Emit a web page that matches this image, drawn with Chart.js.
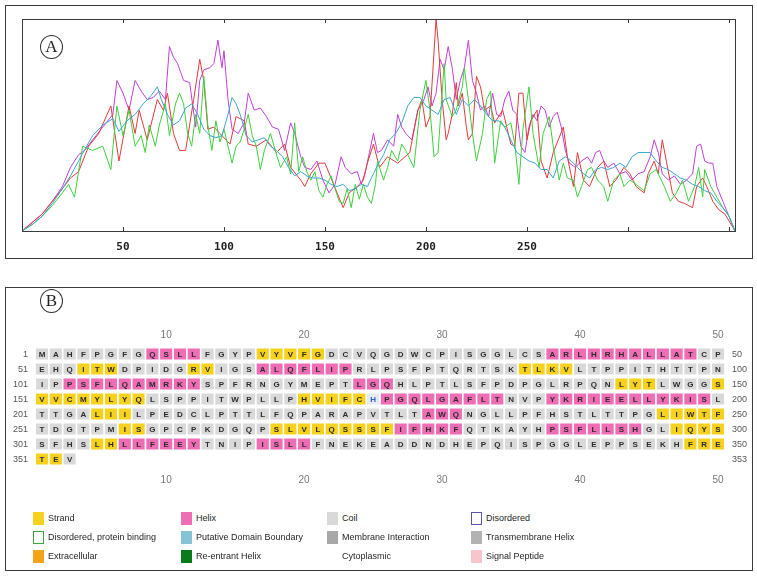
<!DOCTYPE html>
<html>
<head>
<meta charset="utf-8">
<title>Profile and sequence</title>
<script src="https://cdn.jsdelivr.net/npm/chart.js@4.4.1/dist/chart.umd.min.js"></script>
<style>
    html, body { margin: 0; padding: 0; background: #fff; }
    body { width: 757px; height: 577px; position: relative; overflow: hidden; font-family: "Liberation Sans", Arial, sans-serif; }
    .panel { position: absolute; border: 1px solid #3c3c3c; box-sizing: border-box; }
    #panelA { left: 5px; top: 5px; width: 748px; height: 254px; }
    #panelB { left: 5px; top: 287px; width: 748px; height: 284px; }
    canvas { position: absolute; }
    #profileChart { left: 6px; top: 6px; }
    #sequenceChart { left: 6px; top: 288px; }
    .badge { position: absolute; width: 23px; height: 24px; border: 1px solid #333; border-radius: 50%; box-sizing: border-box;
             font-family: "Liberation Serif", "DejaVu Serif", serif; font-size: 17px; line-height: 22px; text-align: center; color: #222; }
    .legend-item { position: absolute; height: 13px; font-size: 9px; line-height: 13px; color: #262626; white-space: nowrap; }
    .legend-item .sw { position: absolute; left: 0; top: 0; width: 11px; height: 13px; box-sizing: border-box; }
    .legend-item .tx { position: absolute; top: 0; }
</style>
</head>
<body>
<div class="panel" id="panelA"></div>
<div class="panel" id="panelB"></div>
<canvas id="profileChart" width="746" height="252"></canvas>
<canvas id="sequenceChart" width="746" height="212"></canvas>
<div class="badge" style="left:40px;top:35px;">A</div>
<div class="badge" style="left:40px;top:289px;">B</div>
<div id="legend"></div>

<script>
// ---- Panel A: per-residue profiles, [residue, value] ----
const magentaLine = [[0,0],[10,8],[15,14],[20,21],[24,30],[28,36],[31,38],[35,43],[40,49],[45,55],[47,71],[50,65],[53,57],[56,71],[59,66],[62,62],[65,63],[68,66],[71,62],[73,87],[75,82],[77,79],[80,71],[83,70],[86,49],[88,71],[90,76],[93,77],[95,79],[97,90],[99,77],[100,85],[102,62],[104,48],[107,46],[110,51],[112,65],[115,57],[118,58],[121,54],[124,49],[127,48],[130,38],[133,51],[135,46],[138,35],[140,30],[143,29],[146,33],[149,24],[152,18],[155,22],[158,35],[160,30],[163,27],[166,28],[168,22],[170,28],[172,37],[174,46],[176,37],[178,38],[181,43],[184,40],[186,55],[188,49],[190,46],[193,43],[196,57],[199,62],[201,68],[203,59],[205,65],[207,81],[209,76],[211,87],[213,77],[215,62],[217,71],[219,77],[221,90],[223,71],[225,65],[227,57],[229,59],[231,54],[233,65],[235,55],[237,54],[239,62],[241,66],[243,57],[245,55],[247,40],[249,37],[251,49],[253,55],[255,52],[257,59],[259,57],[261,49],[263,54],[265,56],[267,49],[269,38],[271,32],[274,30],[277,33],[280,35],[282,32],[284,37],[286,38],[288,33],[290,30],[293,32],[296,27],[299,28],[302,24],[305,27],[308,28],[311,35],[313,43],[315,37],[317,27],[320,24],[323,26],[326,22],[329,24],[332,27],[334,40],[336,41],[338,33],[340,32],[342,32],[344,21],[347,14],[350,7],[353,0]];
const redLine = [[0,0],[10,8],[15,14],[20,20],[24,25],[28,28],[33,40],[38,46],[44,59],[48,33],[53,59],[56,46],[58,57],[62,43],[67,62],[70,57],[72,65],[75,46],[78,38],[81,38],[85,62],[88,81],[90,71],[92,48],[95,49],[98,46],[103,41],[106,54],[110,52],[112,41],[116,40],[121,43],[126,37],[130,41],[133,30],[138,24],[140,21],[143,27],[147,32],[150,32],[153,25],[156,18],[159,11],[162,18],[166,21],[169,24],[171,32],[174,41],[177,30],[181,35],[186,32],[192,37],[196,57],[198,62],[200,49],[202,54],[205,100],[206,90],[208,62],[210,43],[211,46],[213,55],[215,70],[216,59],[218,65],[220,49],[221,43],[223,46],[225,73],[227,68],[229,57],[232,59],[234,51],[238,57],[242,41],[244,40],[246,65],[248,65],[250,43],[252,52],[255,57],[257,33],[260,25],[263,37],[268,49],[270,35],[273,21],[275,37],[278,24],[281,21],[285,30],[288,33],[291,21],[294,24],[298,30],[301,27],[304,21],[308,18],[310,27],[313,33],[315,27],[317,43],[319,33],[322,18],[325,14],[328,13],[332,11],[334,21],[337,25],[339,21],[342,14],[345,10],[348,8],[353,0]];
const greenLine = [[0,0],[5,3],[10,7],[15,12],[20,18],[23,22],[26,16],[30,40],[35,38],[40,40],[44,29],[47,59],[50,45],[53,57],[56,40],[59,45],[61,37],[63,50],[66,40],[68,50],[71,60],[73,45],[76,60],[78,65],[80,60],[82,46],[84,40],[86,55],[88,46],[90,73],[92,50],[94,38],[96,52],[98,42],[100,48],[102,40],[104,32],[106,40],[108,42],[110,48],[112,55],[114,45],[116,40],[118,29],[120,38],[123,46],[126,36],[128,30],[131,35],[133,27],[135,51],[137,28],[139,35],[141,28],[143,24],[145,28],[147,19],[149,16],[151,22],[153,26],[155,20],[157,14],[159,13],[161,20],[163,11],[165,22],[167,15],[169,22],[171,16],[173,13],[175,22],[176,33],[179,24],[181,30],[183,38],[186,33],[188,41],[190,38],[194,30],[197,57],[200,71],[202,57],[204,35],[206,37],[209,79],[210,62],[213,54],[215,57],[218,68],[219,77],[221,62],[223,46],[225,33],[228,46],[230,62],[232,66],[234,32],[237,52],[239,49],[242,51],[244,41],[246,22],[248,48],[251,68],[253,46],[256,30],[258,46],[261,54],[263,40],[266,24],[268,32],[270,25],[273,24],[275,16],[277,21],[280,29],[282,30],[285,24],[288,21],[290,14],[293,24],[296,27],[298,21],[301,24],[304,22],[308,19],[311,27],[314,29],[318,21],[321,14],[324,18],[327,24],[330,14],[333,21],[335,30],[337,16],[338,29],[341,21],[344,16],[347,11],[350,7],[353,0]];
const blueLine = [[0,0],[5,3],[10,7],[15,13],[20,20],[24,26],[28,33],[32,40],[35,45],[40,50],[45,53],[48,47],[52,52],[56,55],[60,60],[64,64],[67,68],[69,62],[72,55],[75,50],[78,52],[81,58],[84,60],[87,55],[90,48],[93,45],[96,44],[99,45],[102,55],[104,63],[106,60],[108,55],[111,45],[114,42],[117,43],[120,44],[123,40],[126,38],[129,35],[132,30],[135,26],[138,28],[141,26],[144,25],[147,25],[150,24],[153,22],[156,21],[159,22],[162,19],[165,20],[168,22],[171,21],[174,27],[176,31],[179,36],[182,43],[185,46],[188,51],[191,59],[194,63],[197,63],[200,59],[203,57],[206,55],[209,62],[212,63],[215,55],[218,62],[221,59],[224,62],[227,59],[230,55],[233,52],[236,52],[239,49],[242,43],[245,37],[248,35],[251,33],[254,32],[257,29],[260,29],[263,25],[266,33],[269,35],[272,33],[275,30],[278,27],[281,25],[284,29],[287,30],[290,29],[293,30],[296,32],[299,30],[302,35],[305,37],[308,37],[311,37],[314,33],[317,30],[320,29],[323,27],[326,25],[329,24],[332,22],[335,21],[338,19],[341,18],[344,14],[347,11],[350,7],[353,0]];
const tickValuesA = [50, 100, 150, 200, 250, 300, 350];
const tickLabelsA = ['50', '100', '150', '200', '250', '', ''];

// ---- Panel B: sequence and per-residue annotation ----
const sequenceRows = [
    'MAHFPGFGQSLLFGYPVYVFGDCVQGDWCPISGGLCSARLHRHALLATCP',
    'EHQITWDPIDGRVIGSALQFLIPRLPSFPTQRTSKTLKVLTPPITHTTPN',
    'IPPSFLQAMRKYSPFRNGYMEPTLGQHLPTLSFPDPGLRPQNLYTLWGGS',
    'VVCMYLYQLSPPITWPLLPHVIFCHPGQLGAFLTNVPYKRIEELLYKISL',
    'TTGALIILPEDCLPTTLFQPARAPVTLTAWQNGLLPFHSTLTTPGLIWTF',
    'TDGTPMISGPCPKDGQPSLVLQSSSFIFHKFQTKAYHPSFLLSHGLIQYS',
    'SFHSLHLLFEEYTNIPISLLFNEKEADDNDHEPQISPGGLEPPSEKHFRE',
    'TEV'
];
const strandRanges = [[17,21],[54,56],[62,63],[86,89],[143,145],[150,158],[170,174],[205,207],[246,250],[257,258],[268,276],[297,300],[305,306],[348,352]];
const helixRanges = [[9,12],[38,48],[67,73],[103,112],[124,126],[176,184],[188,199],[229,231],[277,281],[288,294],[307,312],[317,320]];
const boundaryResidues = [175];
const rowStartLabels = ['1', '51', '101', '151', '201', '251', '301', '351'];
const rowEndLabels = ['50', '100', '150', '200', '250', '300', '350', '353'];
const columnTicks = [10, 20, 30, 40, 50];

const legendItems = [
    ['Strand', '#f6d21e', null], ['Helix', '#ef6db5', null], ['Coil', '#d9d9d9', null], ['Disordered', '#fff', '#5a54b0'],
    ['Disordered, protein binding', '#fff', '#3aa53a'], ['Putative Domain Boundary', '#86c3d5', null], ['Membrane Interaction', '#a8a8a8', null], ['Transmembrane Helix', '#b2b2b2', null],
    ['Extracellular', '#f5a31a', null], ['Re-entrant Helix', '#0b7a1a', null], ['Cytoplasmic', null, null], ['Signal Peptide', '#f7c6cc', null]
];

const COLORS = { strand: '#f6d21e', helix: '#ef6db5', coil: '#d9d9d9', boundary: '#e6ebf1' };

document.addEventListener('DOMContentLoaded', function() {
    if (typeof Chart === 'undefined') {
        console.error('Chart.js not loaded');
        return;
    }
    initProfileChart();
    initSequenceChart();
    buildLegend();
});

// frame, inward tick marks and tick numbers for panel A
const framePlugin = {
    id: 'frame',
    afterDraw(chart) {
        const ctx = chart.ctx;
        const a = chart.chartArea;
        const x = chart.scales.x;
        ctx.save();
        ctx.strokeStyle = '#3a3a3a';
        ctx.lineWidth = 1;
        ctx.strokeRect(Math.round(a.left) + 0.5, Math.round(a.top) + 0.5, Math.round(a.right - a.left), Math.round(a.bottom - a.top));
        ctx.beginPath();
        tickValuesA.forEach(v => {
            const px = Math.round(x.getPixelForValue(v)) + 0.5;
            ctx.moveTo(px, a.top);
            ctx.lineTo(px, a.top + 4);
            ctx.moveTo(px, a.bottom);
            ctx.lineTo(px, a.bottom - 4);
        });
        ctx.stroke();

        ctx.fillStyle = '#222';
        ctx.font = 'bold 11px "DejaVu Sans Mono", monospace';
        ctx.textAlign = 'center';
        ctx.textBaseline = 'middle';
        tickValuesA.forEach((v, i) => {
            if (tickLabelsA[i]) ctx.fillText(tickLabelsA[i], x.getPixelForValue(v), a.bottom + 16);
        });
        ctx.restore();
    }
};

function lineDataset(points, color) {
    return {
        data: points.map(p => ({ x: p[0], y: p[1] })),
        borderColor: color,
        borderWidth: 1,
        pointRadius: 0,
        tension: 0,
        fill: false
    };
}

function initProfileChart() {
    const ctx = document.getElementById('profileChart');
    new Chart(ctx, {
        type: 'line',
        data: {
            datasets: [
                lineDataset(blueLine, '#3aa6d0'),
                lineDataset(greenLine, '#3fcf3f'),
                lineDataset(redLine, '#e23a3a'),
                lineDataset(magentaLine, '#c03fd8')
            ]
        },
        options: {
            responsive: false,
            animation: false,
            devicePixelRatio: 1,
            layout: { padding: { left: 16, right: 17, top: 13, bottom: 27 } },
            plugins: { legend: { display: false }, tooltip: { enabled: false } },
            scales: {
                x: { type: 'linear', display: false, min: 0, max: 353 },
                y: { type: 'linear', display: false, min: 0, max: 100 }
            }
        },
        plugins: [framePlugin]
    });
}

// residue letters in the cells, plus column / row numbering from the scales
const sequenceLabelPlugin = {
    id: 'seqLabels',
    afterDatasetsDraw(chart) {
        const ctx = chart.ctx;
        const meta = chart.getDatasetMeta(0);
        const ds = chart.data.datasets[0];
        const x = chart.scales.x;
        const y = chart.scales.y;
        const a = chart.chartArea;
        ctx.save();
        ctx.textBaseline = 'middle';

        ctx.font = 'bold 8px "Liberation Sans", Arial, sans-serif';
        ctx.textAlign = 'center';
        meta.data.forEach((bar, i) => {
            const cell = ds.data[i];
            ctx.fillStyle = cell.state === 'boundary' ? '#2f5fc0' : '#2b2b2b';
            ctx.fillText(cell.aa, bar.x, (bar.y + bar.base) / 2 + 0.5);
        });

        ctx.font = '10px "Liberation Sans", Arial, sans-serif';
        ctx.fillStyle = '#777';
        columnTicks.forEach(c => {
            const px = x.getPixelForValue(c);
            ctx.fillText(String(c), px, a.top - 11.5);
            ctx.fillText(String(c), px, a.bottom + 13.5);
        });

        ctx.font = '9px "Liberation Sans", Arial, sans-serif';
        ctx.fillStyle = '#555';
        sequenceRows.forEach((_, r) => {
            const py = y.getPixelForValue(r) + 0.5;
            ctx.textAlign = 'right';
            ctx.fillText(rowStartLabels[r], a.left - 7, py);
            ctx.textAlign = 'left';
            ctx.fillText(rowEndLabels[r], a.right + 7, py);
        });
        ctx.restore();
    }
};

function residueState(n) {
    if (boundaryResidues.includes(n)) return 'boundary';
    if (helixRanges.some(r => n >= r[0] && n <= r[1])) return 'helix';
    if (strandRanges.some(r => n >= r[0] && n <= r[1])) return 'strand';
    return 'coil';
}

function initSequenceChart() {
    const cells = [];
    sequenceRows.forEach((row, r) => {
        row.split('').forEach((aa, c) => {
            const n = r * 50 + c + 1;
            cells.push({ x: c + 1, y: [r - 0.36, r + 0.36], aa: aa, state: residueState(n) });
        });
    });

    new Chart(document.getElementById('sequenceChart'), {
        type: 'bar',
        data: {
            datasets: [{
                data: cells,
                backgroundColor: cells.map(c => COLORS[c.state]),
                borderWidth: 0,
                barPercentage: 0.88,
                categoryPercentage: 1
            }]
        },
        options: {
            responsive: false,
            animation: false,
            devicePixelRatio: 1,
            layout: { padding: { left: 29.1, right: 27.1, top: 58.5, bottom: 33.5 } },
            plugins: { legend: { display: false }, tooltip: { enabled: false } },
            scales: {
                x: { type: 'linear', display: false, offset: false, min: 0.5, max: 50.5 },
                y: { type: 'linear', display: false, min: -0.5, max: 7.5, reverse: true }
            }
        },
        plugins: [sequenceLabelPlugin]
    });
}

// legend under panel B (4 columns x 3 rows)
function buildLegend() {
    const holder = document.getElementById('legend');
    const colX = [33, 181, 327, 471];
    const rowY = [512, 531, 550];
    legendItems.forEach((item, i) => {
        const el = document.createElement('div');
        el.className = 'legend-item';
        el.style.left = colX[i % 4] + 'px';
        el.style.top = rowY[Math.floor(i / 4)] + 'px';
        if (item[1]) {
            const sw = document.createElement('span');
            sw.className = 'sw';
            sw.style.background = item[1];
            if (item[2]) sw.style.border = '1px solid ' + item[2];
            el.appendChild(sw);
        }
        const tx = document.createElement('span');
        tx.className = 'tx';
        tx.style.left = '15px';
        tx.textContent = item[0];
        el.appendChild(tx);
        holder.appendChild(el);
    });
}
</script>
</body>
</html>
